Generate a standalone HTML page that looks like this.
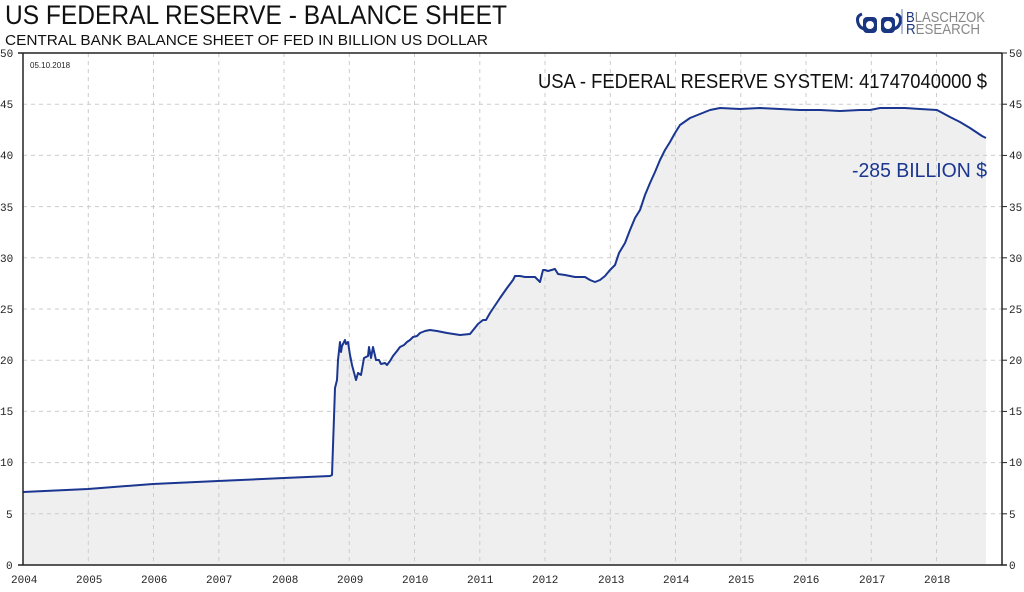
<!DOCTYPE html>
<html><head><meta charset="utf-8"><style>
body{margin:0;background:#fff;width:1024px;height:587px;overflow:hidden;font-family:"Liberation Sans",sans-serif}
</style></head><body>
<svg width="1024" height="587" xmlns="http://www.w3.org/2000/svg">
<text x="5" y="24" font-family="Liberation Sans" font-size="27" fill="#111" textLength="502" lengthAdjust="spacingAndGlyphs">US FEDERAL RESERVE - BALANCE SHEET</text>
<text x="5" y="45" font-family="Liberation Sans" font-size="15" fill="#111" textLength="483" lengthAdjust="spacingAndGlyphs">CENTRAL BANK BALANCE SHEET OF FED IN BILLION US DOLLAR</text>
<!-- logo -->
<g fill="none" stroke="#1a3680" stroke-width="3">
<path d="M862 14 q-6 2 -4 9 q2 6 8 6"/><path d="M896 14 q6 2 4 9 q-2 6 -8 6"/>
</g>
<rect x="863" y="17" width="14" height="16" rx="4" fill="#1a3680"/>
<rect x="881" y="17" width="14" height="16" rx="4" fill="#1a3680"/>
<circle cx="870" cy="25" r="4" fill="#fff"/><circle cx="888" cy="25" r="4" fill="#fff"/>
<line x1="902" y1="9" x2="902" y2="34" stroke="#6a80b0" stroke-width="1"/>
<text x="906" y="22" font-size="15" fill="#888" textLength="79" lengthAdjust="spacingAndGlyphs"><tspan fill="#1a3680">B</tspan>LASCHZOK</text>
<text x="906" y="34" font-size="15" fill="#888" textLength="74" lengthAdjust="spacingAndGlyphs"><tspan fill="#1a3680">R</tspan>ESEARCH</text>
<!-- fill -->
<polygon fill="#efefef" points="23,565 23,492 88,489 153,484 218,481 284,478 330,476 332,475 335,388 337,380 338,360 340,342 341,352 342,346 345,340 346,344 348,342 350,355 352,365 356,380 358,373 361,375 364,358 368,356 369,347 371,358 373,347 376,360 379,360 381,364 385,363 387,365 390,361 393,356 397,351 400,347 404,345 407,342 410,340 413,337 417,336 420,333 425,331 430,330 437,331 447,333 460,335 470,334 478,324 483,320 486,320 490,313 496,304 500,298 507,288 513,280 515,276 520,276 525,277 535,277 540,282 543,270 545,270 548,271 555,269 558,274 565,275 575,277 585,277 590,280 595,282 600,280 605,276 610,270 615,265 619,253 625,243 630,230 635,218 640,210 645,195 650,183 655,172 660,160 665,150 670,142 675,133 680,125 690,118 700,114 710,110 720,108 740,109 760,108 780,109 800,110 820,110 840,111 860,110 870,110 880,108 905,108 920,109 937,110 950,117 960,122 970,128 982,136 986,138 986,565"/>
<!-- grid -->
<g stroke="#ccc" stroke-dasharray="4,4" stroke-width="1">
<line x1="23" x2="1002" y1="104.2" y2="104.2"/><line x1="23" x2="1002" y1="155.4" y2="155.4"/><line x1="23" x2="1002" y1="206.6" y2="206.6"/><line x1="23" x2="1002" y1="257.8" y2="257.8"/><line x1="23" x2="1002" y1="309" y2="309"/><line x1="23" x2="1002" y1="360.2" y2="360.2"/><line x1="23" x2="1002" y1="411.4" y2="411.4"/><line x1="23" x2="1002" y1="462.6" y2="462.6"/><line x1="23" x2="1002" y1="513.8" y2="513.8"/>
<line y1="53" y2="565" x1="88.3" x2="88.3"/><line y1="53" y2="565" x1="153.5" x2="153.5"/><line y1="53" y2="565" x1="218.8" x2="218.8"/><line y1="53" y2="565" x1="284" x2="284"/><line y1="53" y2="565" x1="349.3" x2="349.3"/><line y1="53" y2="565" x1="414.5" x2="414.5"/><line y1="53" y2="565" x1="479.8" x2="479.8"/><line y1="53" y2="565" x1="545" x2="545"/><line y1="53" y2="565" x1="610.3" x2="610.3"/><line y1="53" y2="565" x1="675.5" x2="675.5"/><line y1="53" y2="565" x1="740.8" x2="740.8"/><line y1="53" y2="565" x1="806" x2="806"/><line y1="53" y2="565" x1="871.3" x2="871.3"/><line y1="53" y2="565" x1="936.5" x2="936.5"/>
</g>
<!-- series -->
<polyline fill="none" stroke="#1a3690" stroke-width="2" stroke-linejoin="round" points="23,492 88,489 153,484 218,481 284,478 330,476 332,475 335,388 337,380 338,360 340,342 341,352 342,346 345,340 346,344 348,342 350,355 352,365 356,380 358,373 361,375 364,358 368,356 369,347 371,358 373,347 376,360 379,360 381,364 385,363 387,365 390,361 393,356 397,351 400,347 404,345 407,342 410,340 413,337 417,336 420,333 425,331 430,330 437,331 447,333 460,335 470,334 478,324 483,320 486,320 490,313 496,304 500,298 507,288 513,280 515,276 520,276 525,277 535,277 540,282 543,270 545,270 548,271 555,269 558,274 565,275 575,277 585,277 590,280 595,282 600,280 605,276 610,270 615,265 619,253 625,243 630,230 635,218 640,210 645,195 650,183 655,172 660,160 665,150 670,142 675,133 680,125 690,118 700,114 710,110 720,108 740,109 760,108 780,109 800,110 820,110 840,111 860,110 870,110 880,108 905,108 920,109 937,110 950,117 960,122 970,128 982,136 986,138"/>
<!-- axes -->
<g stroke="#222" stroke-width="1.5" fill="none">
<line x1="23" y1="53" x2="23" y2="565"/><line x1="1002" y1="53" x2="1002" y2="565"/>
<line x1="18" y1="53" x2="1002" y2="53"/><line x1="18" y1="565" x2="1007" y2="565"/>
</g>
<g stroke="#222" stroke-width="1"><line x1="1002" x2="1007" y1="53" y2="53"/><line x1="1002" x2="1007" y1="104.2" y2="104.2"/><line x1="1002" x2="1007" y1="155.4" y2="155.4"/><line x1="1002" x2="1007" y1="206.6" y2="206.6"/><line x1="1002" x2="1007" y1="257.8" y2="257.8"/><line x1="1002" x2="1007" y1="309" y2="309"/><line x1="1002" x2="1007" y1="360.2" y2="360.2"/><line x1="1002" x2="1007" y1="411.4" y2="411.4"/><line x1="1002" x2="1007" y1="462.6" y2="462.6"/><line x1="1002" x2="1007" y1="513.8" y2="513.8"/></g>
<g font-family="Liberation Mono" font-size="11" fill="#222">
<text x="0" y="57">50</text><text x="0" y="108">45</text><text x="0" y="159">40</text><text x="0" y="211">35</text><text x="0" y="262">30</text><text x="0" y="313">25</text><text x="0" y="364">20</text><text x="0" y="415">15</text><text x="0" y="466">10</text><text x="6" y="518">5</text><text x="6" y="569">0</text>
<text x="1009" y="57">50</text><text x="1009" y="108">45</text><text x="1009" y="159">40</text><text x="1009" y="211">35</text><text x="1009" y="262">30</text><text x="1009" y="313">25</text><text x="1009" y="364">20</text><text x="1009" y="415">15</text><text x="1009" y="466">10</text><text x="1009" y="518">5</text><text x="1009" y="569">0</text>
<text x="11" y="583">2004</text><text x="76" y="583">2005</text><text x="141" y="583">2006</text><text x="206" y="583">2007</text><text x="272" y="583">2008</text><text x="337" y="583">2009</text><text x="402" y="583">2010</text><text x="467" y="583">2011</text><text x="532" y="583">2012</text><text x="598" y="583">2013</text><text x="663" y="583">2014</text><text x="728" y="583">2015</text><text x="793" y="583">2016</text><text x="859" y="583">2017</text><text x="924" y="583">2018</text>
</g>
<text x="30" y="68" font-size="8" fill="#222">05.10.2018</text>
<text x="538" y="88" font-size="20" fill="#111" textLength="449" lengthAdjust="spacingAndGlyphs">USA - FEDERAL RESERVE SYSTEM: 41747040000 $</text>
<text x="852" y="177" font-size="20" fill="#1a3690" textLength="135" lengthAdjust="spacingAndGlyphs">-285 BILLION $</text>
</svg>
</body></html>
